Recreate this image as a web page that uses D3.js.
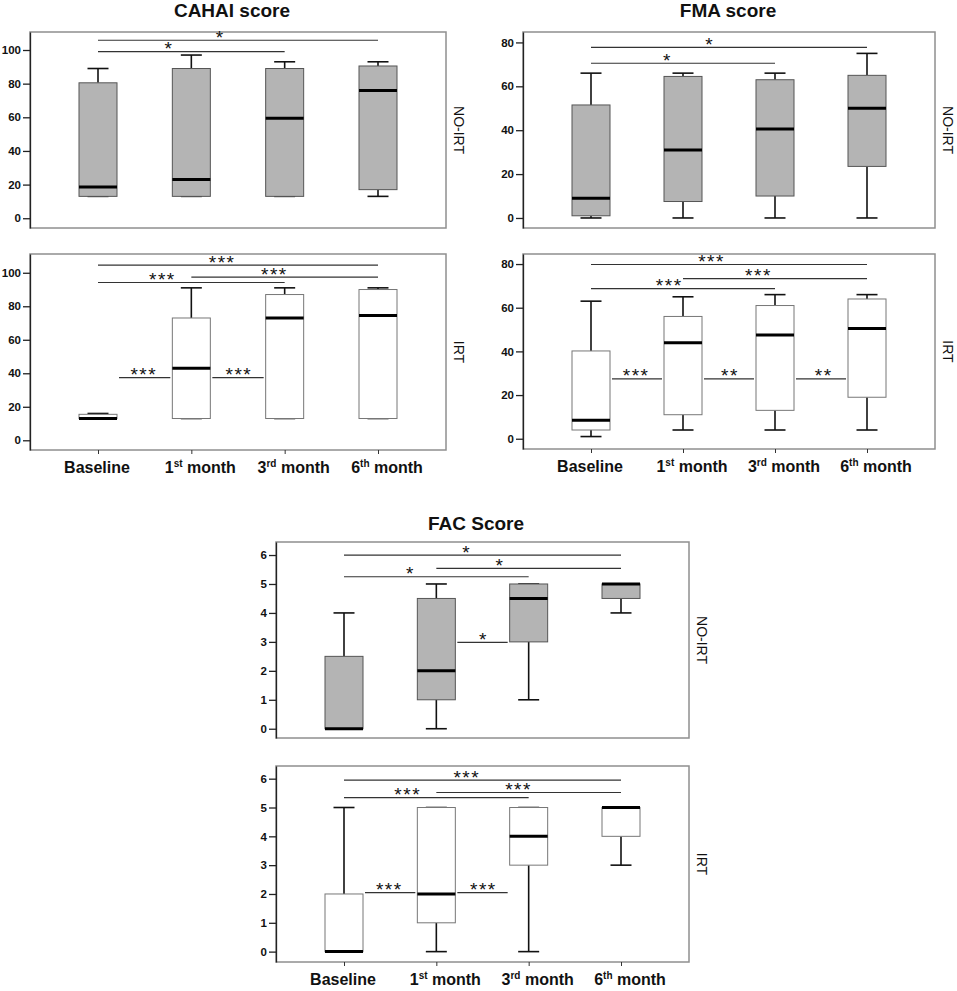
<!DOCTYPE html>
<html>
<head>
<meta charset="utf-8">
<script src="https://cdn.jsdelivr.net/npm/d3@7"></script>
<style>
  body { margin: 0; background: #fff; }
  text { font-family: "Liberation Sans", Arial, sans-serif; }
</style>
</head>
<body>
<div id="chart"></div>
<script>
// categories along x
const categories = ["Baseline", "1st month", "3rd month", "6th month"];
const labelMain = ["Baseline", "1", "3", "6"];
const labelSup = ["", "st", "rd", "th"];
const labelTail = ["", " month", " month", " month"];

// box stats per category: [min, q1, median, q3, max]
const cahaiNoIrt = [[13, 13, 18.5, 80.5, 89], [13, 13, 23, 89, 97], [13, 13, 59.5, 89, 93], [13, 17, 76, 90.5, 93]];
const cahaiIrt   = [[13, 13, 13, 15.5, 16], [13, 13, 43, 73, 91], [13, 13, 73, 87, 91], [13, 13, 74.5, 90, 91]];
const fmaNoIrt   = [[0, 1, 9, 51.5, 66], [0, 7.5, 31, 64.5, 66], [0, 10, 40.5, 63, 66], [0, 23.5, 50, 65, 75]];
const fmaIrt     = [[1, 4, 8.5, 40.2, 63], [4, 11, 44, 56, 65], [4, 13, 47.5, 61, 66], [4, 19, 50.5, 64, 66]];
const facNoIrt   = [[0, 0, 0, 2.5, 4], [0, 1, 2, 4.5, 5], [1, 3, 4.5, 5, 5], [4, 4.5, 5, 5, 5]];
const facIrt     = [[0, 0, 0, 2, 5], [0, 1, 2, 5, 5], [0, 3, 4, 5, 5], [3, 4, 5, 5, 5]];

// significance bars: [from, to, value, star position (category index), label]
const cahaiNoIrtSig = [[0, 3, 105.8, 1.31, "*"], [0, 2, 99, 0.76, "*"]];
const cahaiIrtSig   = [[0, 3, 104.6, 1.33, "***"], [1, 3, 97.4, 1.89, "***"], [0, 2, 94.2, 0.69, "***"],
                       [0, 1, 37.4, 0.49, "***"], [1, 2, 37.4, 1.51, "***"]];
const fmaNoIrtSig   = [[0, 3, 77.7, 1.29, "*"], [0, 2, 70.5, 0.83, "*"]];
const fmaIrtSig     = [[0, 3, 79.8, 1.31, "***"], [1, 3, 73.3, 1.82, "***"], [0, 2, 68.7, 0.85, "***"],
                       [0, 1, 27.4, 0.49, "***"], [1, 2, 27.4, 1.51, "**"], [2, 3, 27.4, 2.53, "**"]];
const facNoIrtSig   = [[0, 3, 6.0, 1.33, "*"], [1, 3, 5.54, 1.69, "*"], [0, 2, 5.25, 0.72, "*"], [1, 2, 2.98, 1.51, "*"]];
const facIrtSig     = [[0, 3, 5.95, 1.33, "***"], [1, 3, 5.52, 1.89, "***"], [0, 2, 5.34, 0.69, "***"],
                       [0, 1, 2.05, 0.49, "***"], [1, 2, 2.05, 1.51, "***"]];

const cahaiTicks = [0, 20, 40, 60, 80, 100];
const fmaTicks = [0, 20, 40, 60, 80];
const facTicks = [0, 1, 2, 3, 4, 5, 6];

const width = 957, height = 991;

const svg = d3.select("#chart").append("svg")
    .attr("width", width)
    .attr("height", height);

svg.append("rect").attr("width", width).attr("height", height).attr("fill", "#fff");

function drawPanel(p) {
  const g = svg.append("g");
  const y = d3.scaleLinear().domain(p.domain).range([p.y1, p.y0]);
  const x = d3.scalePoint().domain(categories).range([p.x0 + 68, p.x1 - 68]);
  const step = x.step();
  const bw = 38;

  // frame
  g.append("rect")
    .attr("x", p.x0).attr("y", p.y0)
    .attr("width", p.x1 - p.x0).attr("height", p.y1 - p.y0)
    .attr("fill", "none").attr("stroke", "#8f8f8f").attr("stroke-width", 1.5);

  // Y axis
  const ax = g.append("g")
    .attr("transform", "translate(" + p.x0 + ",0)")
    .call(d3.axisLeft(y).tickValues(p.ticks).tickFormat(d3.format("d"))
      .tickSize(7).tickPadding(2).tickSizeOuter(0));
  ax.select(".domain").attr("stroke", "#222").attr("stroke-width", 1.3);
  ax.selectAll(".tick line").attr("stroke", "#222").attr("stroke-width", 1.3);
  ax.selectAll(".tick text")
    .attr("font-family", "'Liberation Sans', Arial, sans-serif")
    .attr("font-size", 11.5).attr("font-weight", "bold").attr("fill", "#111");

  // boxes
  const fill = p.gray ? "#b4b4b4" : "#fff";
  const boxes = g.selectAll(".box").data(p.stats).enter().append("g")
    .attr("transform", (d, i) => "translate(" + x(categories[i]) + ",0)");

  boxes.append("line").attr("y1", d => y(d[3])).attr("y2", d => y(d[4]))
    .attr("stroke", "#111").attr("stroke-width", 1.6);
  boxes.append("line").attr("y1", d => y(d[0])).attr("y2", d => y(d[1]))
    .attr("stroke", "#111").attr("stroke-width", 1.6);
  boxes.append("line").attr("x1", -bw / 4 - 1).attr("x2", bw / 4 + 1)
    .attr("y1", d => y(d[4])).attr("y2", d => y(d[4]))
    .attr("stroke", "#111").attr("stroke-width", 1.6);
  boxes.append("line").attr("x1", -bw / 4 - 1).attr("x2", bw / 4 + 1)
    .attr("y1", d => y(d[0])).attr("y2", d => y(d[0]))
    .attr("stroke", "#111").attr("stroke-width", 1.6);
  boxes.append("rect")
    .attr("x", -bw / 2).attr("width", bw)
    .attr("y", d => y(d[3])).attr("height", d => Math.max(0.5, y(d[1]) - y(d[3])))
    .attr("fill", fill).attr("stroke", p.gray ? "#555" : "#777").attr("stroke-width", 1);
  boxes.append("line").attr("x1", -bw / 2).attr("x2", bw / 2)
    .attr("y1", d => y(d[2])).attr("y2", d => y(d[2]))
    .attr("stroke", "#000").attr("stroke-width", 3);

  // significance bars
  const pos = t => x(categories[0]) + t * step;
  p.sig.forEach(s => {
    const adj = s[1] - s[0] === 1;
    const xa = adj ? pos(s[0]) + bw / 2 + 2 : pos(s[0]);
    const xb = adj ? pos(s[1]) - bw / 2 - 2 : pos(s[1]);
    g.append("line")
      .attr("x1", xa).attr("x2", xb)
      .attr("y1", y(s[2])).attr("y2", y(s[2]))
      .attr("stroke", "#333").attr("stroke-width", 1.2);
    g.append("text")
      .attr("x", pos(s[3])).attr("y", y(s[2]) + 3.5)
      .attr("text-anchor", "middle")
      .attr("font-size", 19).attr("letter-spacing", 1.5)
      .attr("fill", "#111")
      .text(s[4]);
  });

  // group label on the right
  g.append("text")
    .attr("transform", "translate(" + (p.x1 + 13) + "," + ((p.y0 + p.y1) / 2) + ") rotate(90)")
    .attr("text-anchor", "middle").attr("dominant-baseline", "central")
    .attr("font-size", 14).attr("fill", "#111")
    .text(p.group);

  if (p.title) {
    g.append("text")
      .attr("x", p.titleX).attr("y", p.titleY)
      .attr("text-anchor", "middle")
      .attr("font-size", 19).attr("font-weight", "bold").attr("fill", "#111")
      .text(p.title);
  }

  if (p.xlabels) {
    const bx = g.append("g")
      .attr("transform", "translate(0," + p.y1 + ")")
      .call(d3.axisBottom(x).tickSize(4).tickFormat(""));
    bx.select(".domain").remove();
    bx.selectAll(".tick line").attr("stroke", "#333");

    categories.forEach((c, i) => {
      const t = g.append("text")
        .attr("x", x(c) + (labelSup[i] ? 9 : -1)).attr("y", p.y1 + 22.5)
        .attr("text-anchor", "middle")
        .attr("font-size", 16).attr("font-weight", "bold").attr("fill", "#111");
      t.append("tspan").text(labelMain[i]);
      if (labelSup[i]) {
        t.append("tspan").attr("dy", -6).attr("font-size", 10).text(labelSup[i]);
        t.append("tspan").attr("dy", 6).text(labelTail[i]);
      }
    });
  }
}

const panels = [
  { x0: 30, x1: 446, y0: 32, y1: 228, domain: [-5.8, 110.7], ticks: cahaiTicks, stats: cahaiNoIrt, sig: cahaiNoIrtSig,
    gray: true, group: "NO-IRT", title: "CAHAI score", titleX: 232, titleY: 17 },
  { x0: 30, x1: 446, y0: 254, y1: 450, domain: [-5.8, 111.2], ticks: cahaiTicks, stats: cahaiIrt, sig: cahaiIrtSig,
    gray: false, group: "IRT", xlabels: true },
  { x0: 523, x1: 935, y0: 32, y1: 228, domain: [-4.57, 84.75], ticks: fmaTicks, stats: fmaNoIrt, sig: fmaNoIrtSig,
    gray: true, group: "NO-IRT", title: "FMA score", titleX: 728, titleY: 17 },
  { x0: 523, x1: 935, y0: 254, y1: 449, domain: [-4.7, 84.6], ticks: fmaTicks, stats: fmaIrt, sig: fmaIrtSig,
    gray: false, group: "IRT", xlabels: true },
  { x0: 276, x1: 689, y0: 542, y1: 738, domain: [-0.32, 6.45], ticks: facTicks, stats: facNoIrt, sig: facNoIrtSig,
    gray: true, group: "NO-IRT", title: "FAC Score", titleX: 476, titleY: 530 },
  { x0: 276, x1: 689, y0: 766, y1: 962, domain: [-0.36, 6.44], ticks: facTicks, stats: facIrt, sig: facIrtSig,
    gray: false, group: "IRT", xlabels: true }
];

panels.forEach(drawPanel);
</script>
</body>
</html>
